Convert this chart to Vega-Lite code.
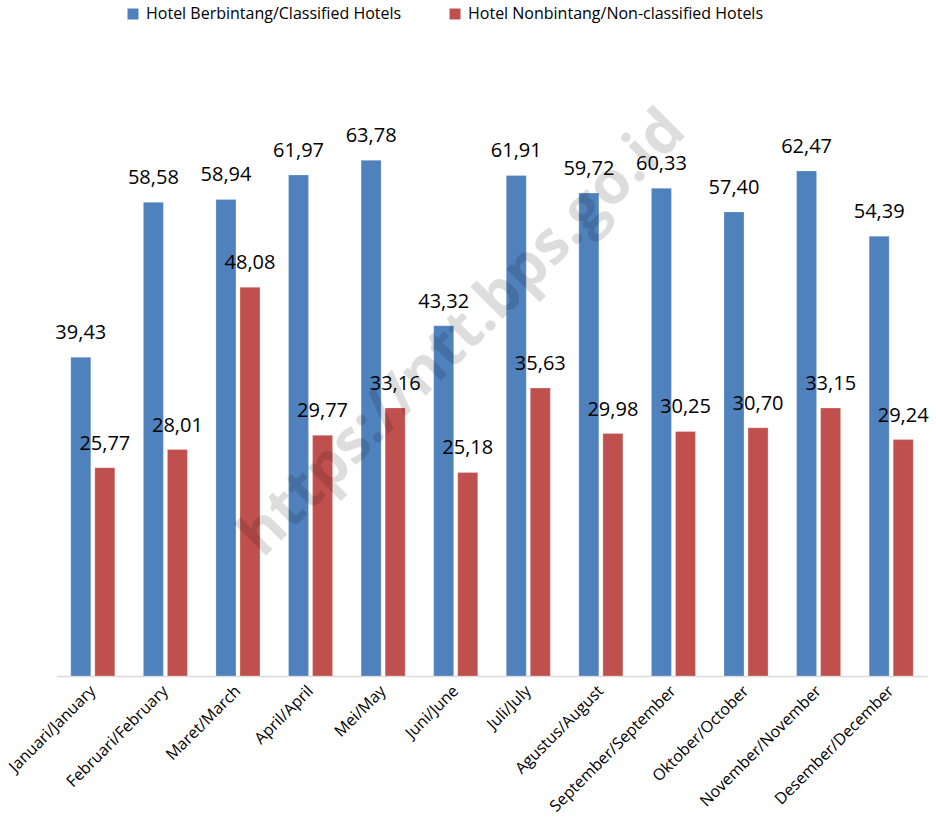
{
  "$schema": "https://vega.github.io/schema/vega-lite/v6.json",
  "width": 870,
  "height": 566,
  "autosize": "none",
  "padding": {"left": 57, "top": 110, "right": 9, "bottom": 148},
  "config": {
    "view": {"stroke": null},
    "font": "Open Sans",
    "locale": {"number": {"decimal": ",", "thousands": ".", "grouping": [3], "currency": ["", ""]}}
  },
  "data": {
    "values": [
      {"month": "Januari/January", "series": "Hotel Berbintang/Classified Hotels", "value": 39.43},
      {"month": "Januari/January", "series": "Hotel Nonbintang/Non-classified Hotels", "value": 25.77},
      {"month": "Februari/February", "series": "Hotel Berbintang/Classified Hotels", "value": 58.58},
      {"month": "Februari/February", "series": "Hotel Nonbintang/Non-classified Hotels", "value": 28.01},
      {"month": "Maret/March", "series": "Hotel Berbintang/Classified Hotels", "value": 58.94},
      {"month": "Maret/March", "series": "Hotel Nonbintang/Non-classified Hotels", "value": 48.08},
      {"month": "April/April", "series": "Hotel Berbintang/Classified Hotels", "value": 61.97},
      {"month": "April/April", "series": "Hotel Nonbintang/Non-classified Hotels", "value": 29.77},
      {"month": "Mei/May", "series": "Hotel Berbintang/Classified Hotels", "value": 63.78},
      {"month": "Mei/May", "series": "Hotel Nonbintang/Non-classified Hotels", "value": 33.16},
      {"month": "Juni/June", "series": "Hotel Berbintang/Classified Hotels", "value": 43.32},
      {"month": "Juni/June", "series": "Hotel Nonbintang/Non-classified Hotels", "value": 25.18},
      {"month": "Juli/July", "series": "Hotel Berbintang/Classified Hotels", "value": 61.91},
      {"month": "Juli/July", "series": "Hotel Nonbintang/Non-classified Hotels", "value": 35.63},
      {"month": "Agustus/August", "series": "Hotel Berbintang/Classified Hotels", "value": 59.72},
      {"month": "Agustus/August", "series": "Hotel Nonbintang/Non-classified Hotels", "value": 29.98},
      {"month": "September/September", "series": "Hotel Berbintang/Classified Hotels", "value": 60.33},
      {"month": "September/September", "series": "Hotel Nonbintang/Non-classified Hotels", "value": 30.25},
      {"month": "Oktober/October", "series": "Hotel Berbintang/Classified Hotels", "value": 57.40},
      {"month": "Oktober/October", "series": "Hotel Nonbintang/Non-classified Hotels", "value": 30.70},
      {"month": "November/November", "series": "Hotel Berbintang/Classified Hotels", "value": 62.47},
      {"month": "November/November", "series": "Hotel Nonbintang/Non-classified Hotels", "value": 33.15},
      {"month": "Desember/December", "series": "Hotel Berbintang/Classified Hotels", "value": 54.39},
      {"month": "Desember/December", "series": "Hotel Nonbintang/Non-classified Hotels", "value": 29.24}
    ]
  },
  "encoding": {
    "x": {
      "field": "month", "type": "nominal", "sort": null,
      "scale": {"paddingInner": 0.393, "paddingOuter": 0.19},
      "axis": {
        "title": null, "labelAngle": -45, "labelAlign": "right", "labelBaseline": "middle",
        "labelFontSize": 16, "labelColor": "#000000", "ticks": false, "labelPadding": 12,
        "labelLimit": 0, "domainColor": "#D9D9D9", "domainWidth": 1.5
      }
    },
    "y": {
      "field": "value", "type": "quantitative",
      "scale": {"domain": [0, 70], "nice": false, "zero": true},
      "axis": null
    }
  },
  "layer": [
    {
      "mark": {"type": "bar", "stroke": "#ffffff", "strokeOpacity": 0.5, "strokeWidth": 0.5},
      "encoding": {
        "xOffset": {"field": "series", "type": "nominal", "scale": {"paddingInner": 0.1667, "paddingOuter": 0}},
        "color": {
          "field": "series", "type": "nominal",
          "scale": {
            "domain": ["Hotel Berbintang/Classified Hotels", "Hotel Nonbintang/Non-classified Hotels"],
            "range": ["#4F81BD", "#C0504D"]
          },
          "legend": {
            "title": null, "orient": "none", "legendX": 68, "legendY": -104,
            "direction": "horizontal", "symbolType": "square", "symbolSize": 121,
            "symbolStrokeWidth": 0, "labelFontSize": 16, "labelColor": "#000000",
            "labelLimit": 0, "columnPadding": 45, "labelOffset": 5
          }
        }
      }
    },
    {
      "mark": {"type": "text", "baseline": "alphabetic", "align": "center", "dy": -18, "fontSize": 20, "color": "#000000"},
      "encoding": {
        "xOffset": {"field": "series", "type": "nominal"},
        "text": {"field": "value", "type": "quantitative", "format": ".2f"}
      }
    },
    {
      "data": {"values": [{"month": "Juni/June", "value": 41.5, "watermark": "https://ntt.bps.go.id"}]},
      "mark": {"type": "text", "angle": -45, "align": "center", "baseline": "middle", "dx": 10, "fontSize": 60, "fontWeight": "bold", "color": "#000000", "opacity": 0.13},
      "encoding": {
        "text": {"field": "watermark", "type": "nominal"}
      }
    }
  ]
}
